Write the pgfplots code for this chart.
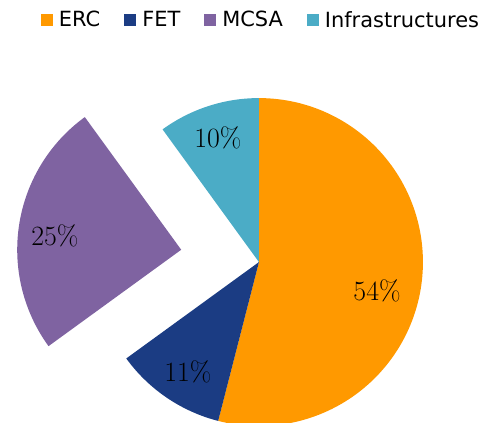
\documentclass[border=0pt]{standalone}
\usepackage{pgfplots}
\pgfplotsset{compat=1.18}
\usepackage{fontspec}
\newfontfamily\legendfont{DejaVu Sans}
\definecolor{cERC}{HTML}{FF9900}
\definecolor{cFET}{HTML}{1B3C83}
\definecolor{cMCSA}{HTML}{7F63A1}
\definecolor{cINF}{HTML}{4BACC6}
\begin{document}
\begin{tikzpicture}
% data (percent) and explosion (fraction of radius)
\def\vERC{54}\def\vFET{11}\def\vMCSA{25}\def\vINF{10}
\def\exMCSA{0.48}
\pgfmathsetmacro\aA{90}
\pgfmathsetmacro\aB{\aA-3.6*\vERC}
\pgfmathsetmacro\aC{\aB-3.6*\vFET}
\pgfmathsetmacro\aD{\aC-3.6*\vMCSA}
\pgfmathsetmacro\aE{\aD-3.6*\vINF}
\pgfmathsetmacro\mMCSA{(\aC+\aD)/2}
\pgfmathsetmacro\dx{\exMCSA*cos(\mMCSA)}
\pgfmathsetmacro\dy{\exMCSA*sin(\mMCSA)}
\begin{axis}[
  x=164bp, y=164bp,
  xmin=-1.579, xmax=1.354, ymin=-0.976, ymax=1.598,
  hide axis, clip=false,
  legend columns=4,
  legend image code/.code={\fill[#1] (0bp,-6bp) rectangle (12bp,6bp);},
  legend style={draw=none, fill=none, inner sep=0pt,
    at={(rel axis cs:0.5426,1)}, anchor=north, yshift=-9bp,
    font=\legendfont\fontsize{21}{24}\selectfont,
    cells={anchor=west, inner sep=1pt},
    /tikz/every odd column/.append style={column sep=4bp},
    /tikz/every even column/.append style={column sep=22bp}},
]
\addplot[fill=cERC, draw=none, domain=\aB:\aA, samples=120] ({cos(x)},{sin(x)}) -- (0,0) -- cycle;
\addlegendentry{ERC}
\addplot[fill=cFET, draw=none, domain=\aC:\aB, samples=40] ({cos(x)},{sin(x)}) -- (0,0) -- cycle;
\addlegendentry{FET}
\addplot[fill=cMCSA, draw=none, domain=\aD:\aC, samples=80] ({\dx+cos(x)},{\dy+sin(x)}) -- (\dx,\dy) -- cycle;
\addlegendentry{MCSA}
\addplot[fill=cINF, draw=none, domain=\aE:\aD, samples=40] ({cos(x)},{sin(x)}) -- (0,0) -- cycle;
\addlegendentry{Infrastructures}
\begin{scope}[every node/.style={font=\fontsize{28}{32}\selectfont}]
\node at (axis cs:0.72,-0.174) {54\%};
\node at (axis cs:-0.433,-0.671) {11\%};
\node at (axis cs:-1.244,0.159) {25\%};
\node at (axis cs:-0.25,0.756) {10\%};
\end{scope}
\end{axis}
\pgfresetboundingbox
\path (current axis.south west) rectangle (current axis.north east);
\end{tikzpicture}
\end{document}
